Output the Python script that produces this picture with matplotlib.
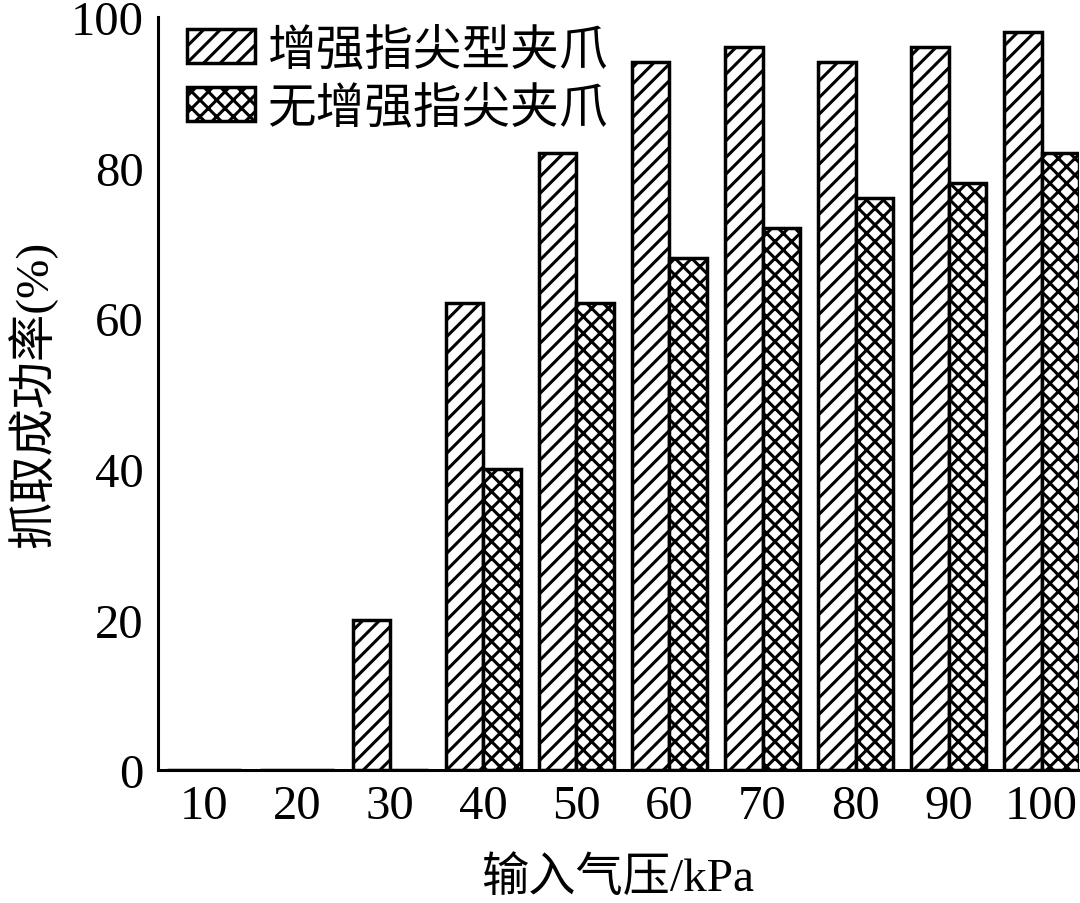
import matplotlib
matplotlib.use("Agg")
import matplotlib.pyplot as plt
import numpy as np

plt.rcParams['font.family'] = ['Liberation Serif', 'Noto Sans CJK SC']
plt.rcParams['hatch.linewidth'] = 2.2

pressures = ['10', '20', '30', '40', '50', '60', '70', '80', '90', '100']
enhanced = [0, 0, 20, 62, 82, 94, 96, 94, 96, 98]
plain = [0, 0, 0, 40, 62, 68, 72, 76, 78, 82]
series_names = ['增强指尖型夹爪', '无增强指尖夹爪']

fig = plt.figure(figsize=(10.8, 9.04), dpi=100)
ax = fig.add_axes([0.146, 0.147, 0.853, 0.833])

x = np.arange(len(pressures))
w = 0.4
ax.bar(x, enhanced, w, align='edge', color='white', edgecolor='black',
       linewidth=2.5, hatch='//', label=series_names[0])
ax.bar(x + w, plain, w, align='edge', color='white', edgecolor='black',
       linewidth=2.5, hatch='xx', label=series_names[1])

ax.set_xlim(-0.1, 9.8)
ax.set_ylim(0, 100)
ax.set_xticks(x + w)
ax.set_xticklabels(pressures)
ax.set_yticks([0, 20, 40, 60, 80, 100])
ax.tick_params(length=0, labelsize=35, pad=10)

for s in ['top', 'right']:
    ax.spines[s].set_visible(False)
for s in ['left', 'bottom']:
    ax.spines[s].set_linewidth(2.2)

ax.set_xlabel('输入气压/kPa', fontsize=34, labelpad=20)
ax.set_ylabel('抓取成功率(%)', fontsize=34, labelpad=10)

ax.legend(loc='upper left', bbox_to_anchor=(0.0, 1.025), frameon=False,
          fontsize=35, handlelength=1.4, handleheight=0.7,
          handletextpad=0.25, labelspacing=0.25, borderaxespad=0.2)

fig.savefig('out.png', dpi=100)
